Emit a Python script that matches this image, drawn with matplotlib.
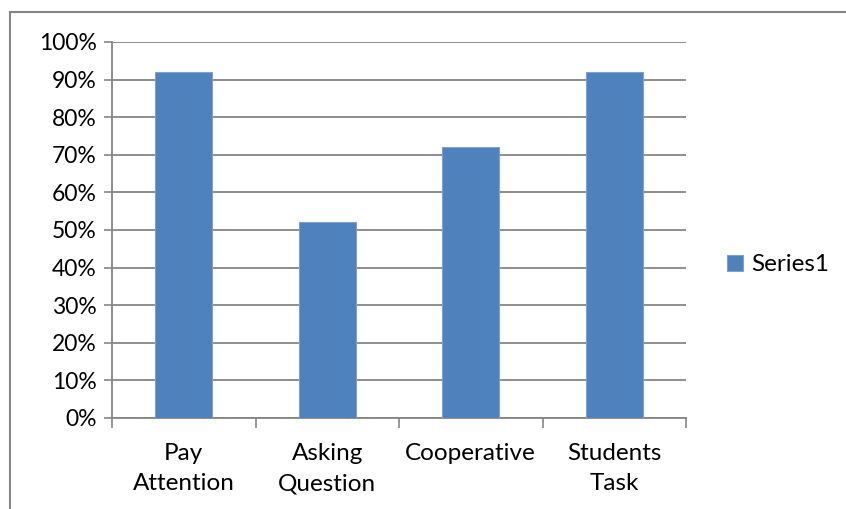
import matplotlib
matplotlib.use("Agg")
import matplotlib.pyplot as plt
from matplotlib.lines import Line2D
from matplotlib.ticker import PercentFormatter
import numpy as np

categories = ["Pay\nAttention", "Asking\nQuestion", "Cooperative", "Students\nTask"]
values = [0.92, 0.52, 0.72, 0.92]
series_name = "Series1"
y_ticks = [0.0, 0.1, 0.2, 0.3, 0.4, 0.5, 0.6, 0.7, 0.8, 0.9, 1.0]

plt.rcParams['font.family'] = ['Lato', 'DejaVu Sans']

W, H = 846, 509
fig = plt.figure(figsize=(W / 100, H / 100), dpi=100)
fig.patch.set_facecolor("white")

# outer chart border (only top and left visible in the crop)
fig.add_artist(Line2D([10 / W, 1.0], [1 - 12 / H, 1 - 12 / H], transform=fig.transFigure,
                      color="#868686", linewidth=1.5))
fig.add_artist(Line2D([10 / W, 10 / W], [0.0, 1 - 12 / H], transform=fig.transFigure,
                      color="#868686", linewidth=1.5))

ax = fig.add_axes([112 / W, 1 - 418 / H, (686 - 112) / W, (418 - 42) / H])
x = np.arange(len(categories))
ax.bar(x, values, width=0.4, color="#4F81BD", edgecolor="#7FA3D1", linewidth=0.8,
       zorder=3, label=series_name)

ax.set_xlim(-0.5, len(categories) - 0.5)
ax.set_ylim(0, 1)
ax.set_yticks(y_ticks)
ax.yaxis.set_major_formatter(PercentFormatter(1.0, decimals=0))
ax.yaxis.grid(True, color="#868686", linewidth=1.3, zorder=0)

# category boundaries as ticks, labels at centres
ax.set_xticks(np.arange(-0.5, len(categories), 1.0))
ax.set_xticklabels([])
ax.set_xticks(x, minor=True)
ax.set_xticklabels(categories, minor=True, fontsize=17.5, linespacing=1.55)
ax.tick_params(axis="x", which="major", length=7, width=1.2, color="#868686", direction="out")
ax.tick_params(axis="x", which="minor", length=0, pad=18)
ax.tick_params(axis="y", length=6, width=1.2, color="#868686", labelsize=16.5, pad=5)

for s in ["top", "right"]:
    ax.spines[s].set_visible(False)
for s in ["left", "bottom"]:
    ax.spines[s].set_color("#868686")
    ax.spines[s].set_linewidth(1.3)

leg = fig.legend(loc="center left", bbox_to_anchor=(705 / W, 1 - 265 / H), frameon=False,
                 fontsize=17.5, handlelength=0.65, handleheight=0.65, handletextpad=0.35)

fig.savefig("out.png", dpi=100)
